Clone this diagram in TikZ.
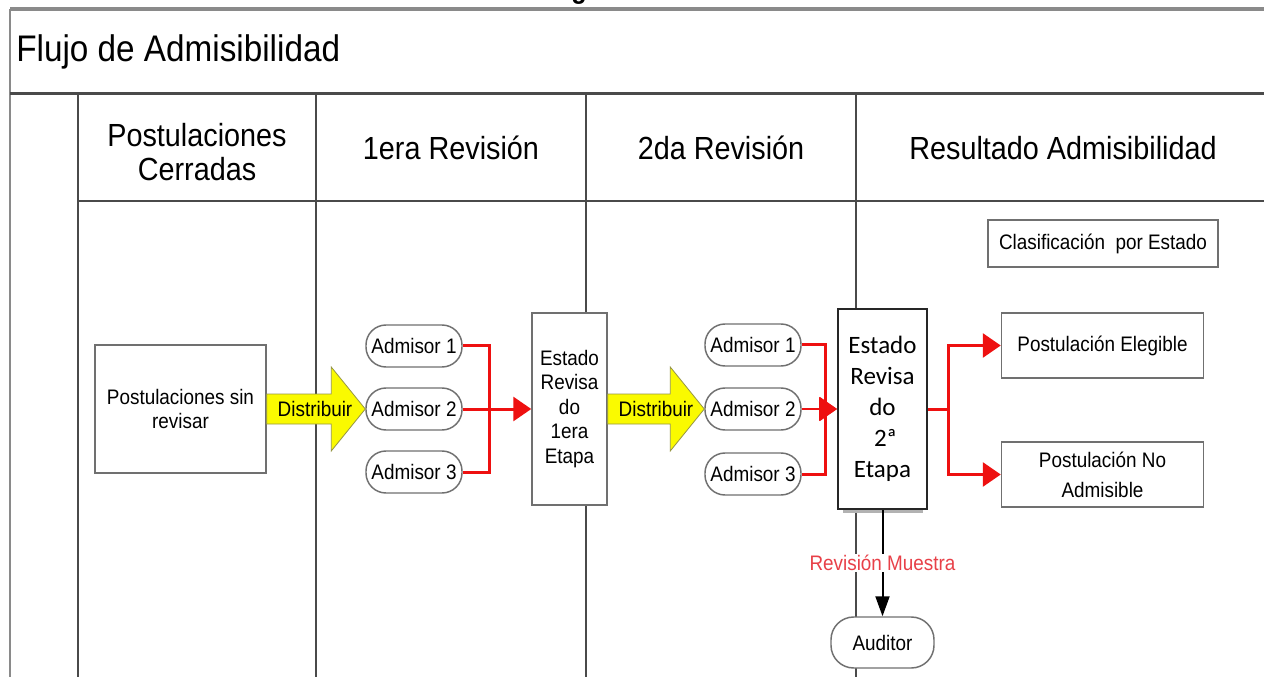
\documentclass[tikz,border=0pt]{standalone}
\usepackage{fontspec}
\setmainfont{Liberation Sans}[FakeStretch=0.9]
\newfontfamily\calfont{Carlito}
\usetikzlibrary{arrows.meta,calc}
\definecolor{lanec}{HTML}{4A4A4A}
\definecolor{topc}{HTML}{8A8A8A}
\definecolor{boxc}{HTML}{707070}
\definecolor{redc}{RGB}{238,16,16}
\definecolor{pinkc}{RGB}{232,64,72}
\definecolor{yelc}{RGB}{250,250,0}
\definecolor{yeld}{RGB}{150,150,70}
\tikzset{
  lanel/.style={draw=lanec, line width=1.5pt},
  titlef/.style={font=\fontsize{27.75}{33}\selectfont},
  headf/.style={font=\fontsize{24}{25.5}\selectfont},
  smallf/.style={font=\fontsize{15.75}{18.4}\selectfont},
  boxn/.style={draw=boxc, line width=1.1pt, fill=white, inner sep=0pt, align=center, smallf},
  pill/.style={boxn, rounded corners=15pt, minimum width=72pt, minimum height=31.5pt},
  redl/.style={draw=redc, line width=2.25pt},
  redarr/.style={redl, -{Triangle[length=13.5pt,width=18pt]}},
  yarrow/.style={fill=yelc, draw=yeld, line width=0.6pt},
  distl/.style={smallf, inner sep=0pt}
}
\begin{document}
\begin{tikzpicture}[x=0.75pt,y=-0.75pt]
\clip (0,0) rectangle (1264,677);
\fill[white] (0,0) rectangle (1264,677);
% fragment of caption above
\node[anchor=base, font=\bfseries\fontsize{21}{21}\selectfont, inner sep=0pt] (frag) at (579,-1) {g};
% frame
\draw[draw=topc, line width=3pt] (10,9.5) -- (1264,9.5);
\draw[draw=topc, line width=1.5pt] (10,9) -- (10,677);
\draw[draw=lanec, line width=2.25pt] (10,94) -- (1264,94);
\draw[lanel] (78,94) -- (78,677);
\draw[lanel] (316,94) -- (316,677);
\draw[lanel] (586,94) -- (586,677);
\draw[lanel] (856,94) -- (856,677);
\draw[draw=lanec, line width=1.9pt] (78,201) -- (1264,201);
% title and headers
\node[titlef, anchor=base west, inner sep=0pt] (title) at (16,62) {Flujo de Admisibilidad};
\node[headf, align=center, inner sep=0pt] (h1) at (197,152) {Postulaciones\\Cerradas};
\node[headf, anchor=base, inner sep=0pt] (h2) at (451,160) {1era Revisión};
\node[headf, anchor=base, inner sep=0pt] (h3) at (721,160) {2da Revisión};
\node[headf, anchor=base, inner sep=0pt] (h4) at (1063,160) {Resultado Admisibilidad};
% nodes
\node[boxn, minimum width=172.5pt, minimum height=35.25pt] (cl) at (1103,243.5) {Clasificación\ \ por Estado};
\node[boxn, minimum width=128.25pt, minimum height=96pt] (psr) at (180.5,409) {Postulaciones sin\\revisar};
\node[pill] (a11) at (414,346) {Admisor 1};
\node[pill] (a12) at (414,409) {Admisor 2};
\node[pill] (a13) at (414,472) {Admisor 3};
\node[boxn, minimum width=56.25pt, minimum height=144pt] (b1) at (569.5,409) {Estado\\Revisa\\do\\1era\\Etapa};
\node[pill] (a21) at (753,345) {Admisor 1};
\node[pill] (a22) at (753,409) {Admisor 2};
\node[pill] (a23) at (753,474) {Admisor 3};
\fill[gray!60] (843,505) rectangle (923,513);
\node[boxn, draw=black!85, line width=1.5pt, minimum width=66.75pt, minimum height=150pt,
      font=\calfont\fontsize{18.75}{23.25}\selectfont] (b2) at (882.5,409) {Estado\\Revisa\\do\\\hphantom{i}2ª\\Etapa};
\node[boxn, minimum width=151.5pt, minimum height=48.75pt] (el) at (1102.5,345.5) {Postulación Elegible};
\node[boxn, minimum width=151.5pt, minimum height=48.75pt, font=\fontsize{15.75}{22.5}\selectfont] (na) at (1102.5,474.5) {Postulación No\\Admisible};
\node[pill, minimum width=77.25pt, minimum height=38.25pt, rounded corners=17pt] (aud) at (882.5,642.5) {Auditor};
% yellow arrows
\draw[yarrow] ($(psr.east)+(0,-15)$) -- ($(a12.west)+(-34,-15)$) -- ($(a12.west)+(-34,-42)$) -- (a12.west)
  -- ($(a12.west)+(-34,42)$) -- ($(a12.west)+(-34,15)$) -- ($(psr.east)+(0,15)$) -- cycle;
\node[distl] (d1) at (315,409) {Distribuir};
\draw[yarrow] ($(b1.east)+(0,-15)$) -- ($(a22.west)+(-34,-15)$) -- ($(a22.west)+(-34,-42)$) -- (a22.west)
  -- ($(a22.west)+(-34,42)$) -- ($(a22.west)+(-34,15)$) -- ($(b1.east)+(0,15)$) -- cycle;
\node[distl] (d2) at (656,409) {Distribuir};
% red connectors
\coordinate (j1) at (489,409);
\coordinate (j2) at (825,409);
\coordinate (j3) at (948,409);
\draw[redl] (a11.east) -| (j1) |- (a13.east);
\draw[redarr] (a12.east) -- (b1.west);
\draw[redl] (a21.east) -| (j2) |- (a23.east);
\draw[redarr, line width=0.9pt] (a22.east) -- (b2.west);
\fill[redc] ($(b2.west)+(-17,-12)$) -- (b2.west) -- ($(b2.west)+(-17,12)$) -- cycle;
\draw[redl] (b2.east) -- (j3);
\draw[redarr] (j3) |- (el.west);
\draw[redarr] (j3) |- (na.west);
% audit
\draw[draw=black, line width=1.5pt, -{Triangle[length=15pt,width=10.5pt]}] (b2.south) -- (aud.north)
  node[pos=0.5, fill=white, text=pinkc, smallf, inner sep=1pt] (rm) {Revisión Muestra};
\end{tikzpicture}
\end{document}
